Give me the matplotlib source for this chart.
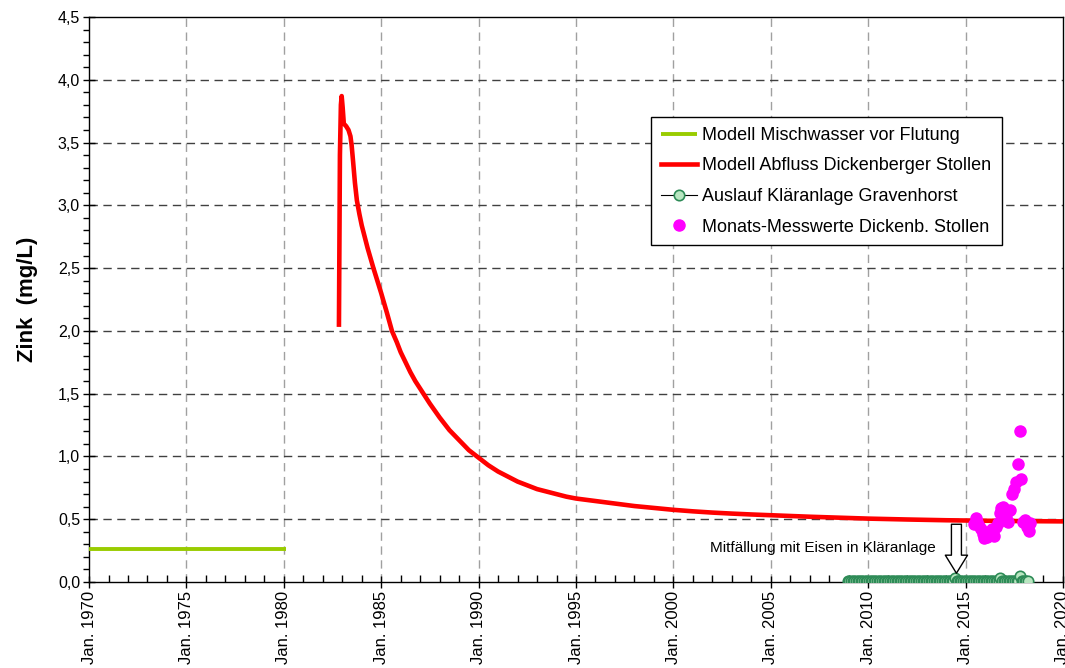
import numpy as np
import pandas as pd
import matplotlib
matplotlib.use("Agg")
import matplotlib.pyplot as plt
from matplotlib.ticker import MultipleLocator, FixedLocator, FuncFormatter

plt.rcParams["font.family"] = ["Liberation Sans", "DejaVu Sans"]

# --- Modell: Mischwasser vor Flutung (constant level 1970-1980) ---
mix_years = [1970.0, 1980.1]
mix_zinc = [0.26, 0.26]

# --- Modell: Abfluss Dickenberger Stollen (decimal years, mg/L) ---
model_years = [1982.83, 1982.88, 1982.93, 1982.97, 1983.02, 1983.08, 1983.20,
               1983.32, 1983.42, 1983.48, 1983.55, 1983.65, 1983.75, 1983.88,
               1984.00, 1984.15, 1984.30, 1984.45, 1984.60, 1984.80, 1985.00,
               1985.30, 1985.55, 1985.80, 1986.00, 1986.25, 1986.50, 1986.75,
               1987.00, 1987.25, 1987.50, 1987.75, 1988.00, 1988.25, 1988.50,
               1988.75, 1989.00, 1989.25, 1989.50, 1989.75, 1990.00, 1990.50,
               1991.00, 1991.50, 1992.00, 1992.50, 1993.00, 1993.50, 1994.00,
               1994.50, 1995.00, 1996.00, 1997.00, 1998.00, 1999.00, 2000.00,
               2001.00, 2002.00, 2003.00, 2004.00, 2005.00, 2006.00, 2007.00,
               2008.00, 2009.00, 2010.00, 2012.00, 2014.00, 2016.00, 2018.00,
               2020.00]
model_zinc = [2.05, 3.40, 3.80, 3.87, 3.78, 3.65, 3.63,
              3.60, 3.55, 3.48, 3.36, 3.18, 3.04, 2.93,
              2.84, 2.75, 2.66, 2.58, 2.50, 2.40, 2.30,
              2.14, 2.00, 1.91, 1.83, 1.75, 1.67, 1.60,
              1.54, 1.48, 1.42, 1.365, 1.31, 1.26, 1.21,
              1.17, 1.13, 1.09, 1.05, 1.02, 0.99, 0.93,
              0.88, 0.84, 0.80, 0.77, 0.74, 0.72, 0.70,
              0.68, 0.665, 0.645, 0.625, 0.605, 0.59, 0.575,
              0.563, 0.553, 0.545, 0.538, 0.532, 0.526, 0.520,
              0.515, 0.510, 0.505, 0.498, 0.492, 0.488, 0.485,
              0.483]

# --- Auslauf Kläranlage Gravenhorst (monthly, Dec 2008 - Mar 2018) ---
plant_dates = pd.date_range("2008-12-01", "2018-03-01", freq="MS")
plant_zinc = [
    0.010,
    0.012, 0.010, 0.011, 0.009, 0.010, 0.012, 0.011, 0.010, 0.009, 0.010, 0.011, 0.010,
    0.010, 0.011, 0.009, 0.010, 0.012, 0.010, 0.011, 0.010, 0.009, 0.011, 0.010, 0.012,
    0.011, 0.010, 0.010, 0.009, 0.011, 0.012, 0.010, 0.010, 0.011, 0.009, 0.010, 0.011,
    0.010, 0.012, 0.011, 0.010, 0.009, 0.010, 0.011, 0.010, 0.012, 0.010, 0.011, 0.010,
    0.011, 0.010, 0.009, 0.010, 0.012, 0.011, 0.010, 0.009, 0.010, 0.011, 0.010, 0.012,
    0.010, 0.011, 0.010, 0.012, 0.009, 0.030, 0.011, 0.010, 0.012, 0.010, 0.011, 0.010,
    0.012, 0.010, 0.011, 0.009, 0.010, 0.011, 0.010, 0.012, 0.010, 0.011, 0.010, 0.009,
    0.010, 0.011, 0.012, 0.010, 0.009, 0.011, 0.010, 0.012, 0.010, 0.030, 0.011, 0.010,
    0.012, 0.010, 0.011, 0.010, 0.012, 0.011, 0.010, 0.009, 0.011, 0.050, 0.012, 0.010,
    0.011, 0.010, 0.005,
]
plant_years = plant_dates.year + (plant_dates.month - 1) / 12.0 + 0.04

# --- Monats-Messwerte Dickenberger Stollen ---
meas_years = [2015.45, 2015.52, 2015.60, 2015.70, 2015.80, 2015.88, 2015.96,
              2016.10, 2016.25, 2016.35, 2016.45, 2016.55, 2016.65, 2016.75,
              2016.82, 2016.90, 2017.00, 2017.10, 2017.20, 2017.30, 2017.38,
              2017.47, 2017.57, 2017.70, 2017.77, 2017.85, 2017.95, 2018.05,
              2018.15, 2018.25, 2018.32]
meas_zinc = [0.46, 0.51, 0.48, 0.45, 0.42, 0.38, 0.35,
             0.36, 0.38, 0.42, 0.37, 0.44, 0.47, 0.55,
             0.59, 0.60, 0.56, 0.52, 0.48, 0.57, 0.70,
             0.74, 0.80, 0.94, 1.20, 0.82, 0.48, 0.49,
             0.44, 0.41, 0.47]

tick_years = [1970, 1975, 1980, 1985, 1990, 1995, 2000, 2005, 2010, 2015, 2020]

fig = plt.figure(figsize=(10.65, 6.68), dpi=100)
ax = fig.add_axes([0.0836, 0.1287, 0.9145, 0.8459])

ax.plot(mix_years, mix_zinc, color="#99CC00", lw=2.8, solid_capstyle="butt",
        label="Modell Mischwasser vor Flutung", zorder=3)
ax.plot(model_years, model_zinc, color="#FF0000", lw=3.3,
        solid_joinstyle="round", label="Modell Abfluss Dickenberger Stollen", zorder=4)
ax.plot(plant_years, plant_zinc, color="black", lw=0.8, marker="o", ms=7.5,
        mfc="#B8E6C0", mec="#2E8B57", mew=1.2,
        label="Auslauf Kläranlage Gravenhorst", zorder=5)
ax.plot(meas_years, meas_zinc, ls="none", marker="o", ms=8, color="#FF00FF",
        mec="#FF00FF", label="Monats-Messwerte Dickenb. Stollen", zorder=6)

ax.set_xlim(1970, 2020)
ax.set_ylim(0, 4.5)

# axes ticks and grid
ax.xaxis.set_major_locator(FixedLocator(tick_years))
ax.xaxis.set_minor_locator(MultipleLocator(1))
ax.xaxis.set_major_formatter(FuncFormatter(lambda v, p: f"Jan. {int(round(v))}"))
ax.yaxis.set_major_locator(MultipleLocator(0.5))
ax.yaxis.set_minor_locator(MultipleLocator(0.1))
ax.yaxis.set_major_formatter(FuncFormatter(lambda v, p: f"{v:.1f}".replace(".", ",")))

ax.tick_params(axis="x", which="major", direction="inout", length=9, width=1,
               labelsize=12, labelrotation=90, pad=2)
ax.tick_params(axis="x", which="minor", direction="in", length=5, width=1)
ax.tick_params(axis="y", which="major", direction="inout", length=9, width=1,
               labelsize=11.5, pad=2)
ax.tick_params(axis="y", which="minor", direction="out", length=4, width=1)

for v in tick_years[1:-1]:
    ax.axvline(v, color="#A0A0A0", lw=1.0, ls=(0, (6, 4)), zorder=1)
for v in np.arange(0.5, 4.5, 0.5):
    ax.axhline(v, color="#404040", lw=1.0, ls=(0, (6, 4)), zorder=1)

for s in ax.spines.values():
    s.set_color("black")
    s.set_linewidth(1.0)

ax.set_ylabel("Zink  (mg/L)", fontsize=16, fontweight="bold", labelpad=14)

# note on iron co-precipitation
ax.text(2013.45, 0.27, "Mitfällung mit Eisen in Kläranlage", fontsize=11,
        ha="right", va="center", zorder=7)
ax.annotate("", xy=(2014.53, 0.07), xytext=(2014.53, 0.46),
            arrowprops=dict(arrowstyle="simple,head_width=1.6,head_length=1.3,tail_width=0.72",
                            fc="white", ec="black", lw=1.0, shrinkA=0, shrinkB=0,
                            mutation_scale=10),
            zorder=8)

leg = ax.legend(loc="upper left", bbox_to_anchor=(0.577, 0.823), fontsize=13,
                frameon=True, fancybox=False, framealpha=1, edgecolor="black",
                borderpad=0.55, labelspacing=0.75, handlelength=2.0,
                handletextpad=0.3, borderaxespad=0)
leg.get_frame().set_linewidth(1.0)
leg.set_zorder(10)

fig.savefig("out.png", dpi=100)
